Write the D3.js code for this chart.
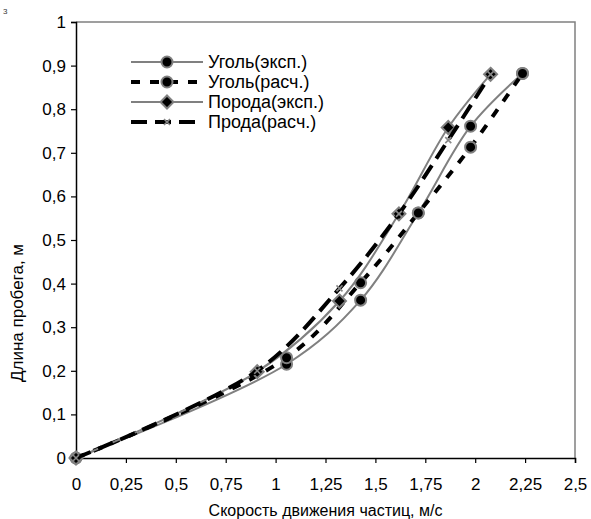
<!DOCTYPE html>
<html>
<head>
<meta charset="utf-8">
<script src="https://cdn.jsdelivr.net/npm/d3@7"></script>
<style>
  body { margin: 0; background: #fff; }
  svg { font-family: "Liberation Sans", Arial, sans-serif; }
</style>
</head>
<body>
<div id="chart"></div>
<script>
// values
const seriesNames = ['Уголь(эксп.)', 'Уголь(расч.)', 'Порода(эксп.)', 'Прода(расч.)']
const coalX = [0, 1.055, 1.426, 1.715, 1.977, 2.237]
const coalExp = [0, 0.215, 0.362, 0.562, 0.761, 0.882]
const coalCalc = [0, 0.230, 0.402, 0.562, 0.713, 0.882]
const rockX = [0, 0.908, 1.32, 1.618, 1.865, 2.077]
const rockExp = [0, 0.198, 0.360, 0.560, 0.758, 0.880]
const rockCalc = [0, 0.200, 0.389, 0.560, 0.729, 0.880]
const xTicks = [0, 0.25, 0.5, 0.75, 1, 1.25, 1.5, 1.75, 2, 2.25, 2.5]
const yTicks = [0, 0.1, 0.2, 0.3, 0.4, 0.5, 0.6, 0.7, 0.8, 0.9, 1]

const width = 591
const height = 519
const margin = { top: 22, right: 16, bottom: 61, left: 76 }
const fontSize = 16

const svg = d3.select('#chart')
  .append('svg')
  .attr('width', width)
  .attr('height', height)

const x = d3.scaleLinear().domain([0, 2.5]).range([margin.left, width - margin.right])
const y = d3.scaleLinear().domain([0, 1]).range([height - margin.bottom, margin.top])

const fmt = d => (+d.toFixed(2)).toString().replace('.', ',')

// small stray mark in the corner
svg.append('text')
  .attr('x', 3)
  .attr('y', 14)
  .attr('font-size', 8)
  .attr('fill', '#333')
  .text('3')

// plot frame (top and right)
svg.append('path')
  .attr('d', `M${x(0)},${y(1)}H${x(2.5)}V${y(0)}`)
  .attr('fill', 'none')
  .attr('stroke', '#808080')
  .attr('stroke-width', 1.5)

const xAxis = svg.append('g')
  .attr('transform', `translate(0,${y(0)})`)
  .call(d3.axisBottom(x).tickValues(xTicks).tickFormat(fmt).tickSizeOuter(0).tickSize(5).tickPadding(14))
const yAxis = svg.append('g')
  .attr('transform', `translate(${x(0)},0)`)
  .call(d3.axisLeft(y).tickValues(yTicks).tickFormat(fmt).tickSizeOuter(0).tickSize(5).tickPadding(5))

for (const ax of [xAxis, yAxis]) {
  ax.select('.domain').attr('stroke', '#000').attr('stroke-width', 1.5)
  ax.selectAll('.tick line').attr('stroke', '#000').attr('stroke-width', 1.2)
  ax.selectAll('.tick text').attr('font-size', 17).attr('fill', '#000')
    .attr('font-family', '"Liberation Sans", Arial, sans-serif')
}
xAxis.selectAll('.tick text').attr('dy', '0.75em')

svg.append('text')
  .attr('x', (x(0) + x(2.5)) / 2)
  .attr('y', 516)
  .attr('text-anchor', 'middle')
  .attr('font-size', fontSize)
  .text('Скорость движения частиц, м/с')

svg.append('text')
  .attr('transform', 'translate(23,313) rotate(-90)')
  .attr('text-anchor', 'middle')
  .attr('font-size', 17)
  .text('Длина пробега, м')

const series = [
  { name: seriesNames[0], xs: coalX, ys: coalExp, stroke: '#808080', width: 2, dash: null, marker: 'circle' },
  { name: seriesNames[1], xs: coalX, ys: coalCalc, stroke: '#000', width: 4, dash: '9,10', marker: 'circle' },
  { name: seriesNames[2], xs: rockX, ys: rockExp, stroke: '#808080', width: 2, dash: null, marker: 'diamond' },
  { name: seriesNames[3], xs: rockX, ys: rockCalc, stroke: '#000', width: 4, dash: '16,8', marker: 'cross' }
]

const line = d3.line()
  .x(d => x(d[0]))
  .y(d => y(d[1]))
  .curve(d3.curveCatmullRom.alpha(0.5))

function drawMarker (g, type) {
  if (type === 'circle') {
    g.append('circle').attr('r', 5.5).attr('fill', '#000').attr('stroke', '#808080').attr('stroke-width', 2)
  } else if (type === 'diamond') {
    g.append('path').attr('d', 'M0,-6.5L6.5,0L0,6.5L-6.5,0Z').attr('fill', '#000').attr('stroke', '#808080').attr('stroke-width', 2)
  } else {
    g.append('path').attr('d', 'M-3,-3L3,3M-3,3L3,-3').attr('stroke', '#888').attr('stroke-width', 1.6)
  }
}

const plot = svg.append('g').classed('series', true)
series.forEach(s => {
  const pts = s.xs.map((v, i) => [v, s.ys[i]])
  const g = plot.append('g')
  g.append('path')
    .datum(pts)
    .attr('d', line)
    .attr('fill', 'none')
    .attr('stroke', s.stroke)
    .attr('stroke-width', s.width)
    .attr('stroke-dasharray', s.dash)
  g.selectAll('g.mk')
    .data(pts)
    .enter()
    .append('g')
    .classed('mk', true)
    .attr('transform', d => `translate(${x(d[0])},${y(d[1])})`)
    .each(function () { drawMarker(d3.select(this), s.marker) })
})

// legend
const legend = svg.append('g').attr('transform', 'translate(131,62)')
series.forEach((s, i) => {
  const row = legend.append('g').attr('transform', `translate(0,${i * 20})`)
  row.append('line')
    .attr('x1', 0).attr('x2', 72)
    .attr('stroke', s.stroke)
    .attr('stroke-width', s.width)
    .attr('stroke-dasharray', s.dash)
  drawMarker(row.append('g').attr('transform', 'translate(36,0)'), s.marker)
  row.append('text')
    .attr('x', 77)
    .attr('dy', '0.35em')
    .attr('font-size', 18)
    .text(s.name)
})
</script>
</body>
</html>
